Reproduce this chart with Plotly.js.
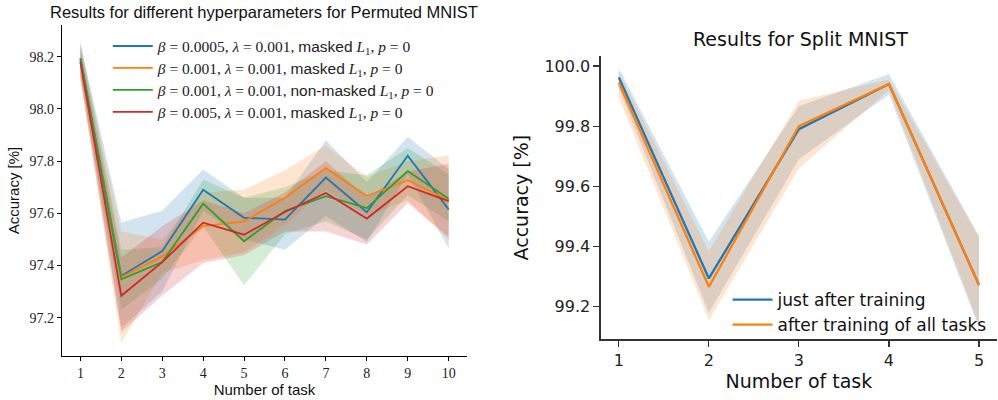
<!DOCTYPE html>
<html>
<head>
<meta charset="utf-8">
<script src="https://cdn.plot.ly/plotly-3.0.1.min.js"></script>
<style>html,body{margin:0;padding:0;background:#fff;}#chart{width:998px;height:400px;}</style>
</head>
<body>
<div id="chart"></div>
<script>
// ---------- Left chart: Permuted MNIST ----------
const tasksP = [1, 2, 3, 4, 5, 6, 7, 8, 9, 10];
const permTicks = [97.2, 97.4, 97.6, 97.8, 98.0, 98.2];

const pBlueMean  = [98.195, 97.360, 97.455, 97.690, 97.583, 97.576, 97.737, 97.604, 97.821, 97.615];
const pBlueUp    = [98.250, 97.565, 97.610, 97.768, 97.660, 97.660, 97.880, 97.720, 97.893, 97.770];
const pBlueLo    = [98.140, 97.160, 97.300, 97.610, 97.500, 97.460, 97.590, 97.490, 97.750, 97.465];

const pOrangeMean = [98.183, 97.355, 97.435, 97.551, 97.569, 97.660, 97.773, 97.666, 97.727, 97.650];
const pOrangeUp   = [98.240, 97.530, 97.500, 97.680, 97.690, 97.765, 97.860, 97.740, 97.800, 97.823];
const pOrangeLo   = [98.120, 97.105, 97.370, 97.420, 97.450, 97.555, 97.690, 97.590, 97.650, 97.500];

const pGreenMean = [98.190, 97.347, 97.413, 97.637, 97.493, 97.609, 97.666, 97.620, 97.762, 97.656];
const pGreenUp   = [98.260, 97.460, 97.470, 97.730, 97.660, 97.700, 97.765, 97.746, 97.850, 97.750];
const pGreenLo   = [98.120, 97.230, 97.350, 97.550, 97.324, 97.520, 97.570, 97.500, 97.670, 97.570];

const pRedMean = [98.180, 97.284, 97.413, 97.564, 97.518, 97.605, 97.678, 97.580, 97.704, 97.647];
const pRedUp   = [98.230, 97.430, 97.550, 97.650, 97.600, 97.680, 97.800, 97.660, 97.760, 97.790];
const pRedLo   = [98.110, 97.145, 97.285, 97.410, 97.440, 97.530, 97.530, 97.480, 97.640, 97.509];

const permLabels = [
  '<span style="font-size:15.5px"><i>β</i> = 0.0005, <i>λ</i> = 0.001, <span style="font-family:Liberation Sans">masked</span> <i>L</i><sub>1</sub>, <i>p</i> = 0</span>',
  '<span style="font-size:15.5px"><i>β</i> = 0.001, <i>λ</i> = 0.001, <span style="font-family:Liberation Sans">masked</span> <i>L</i><sub>1</sub>, <i>p</i> = 0</span>',
  '<span style="font-size:15.5px"><i>β</i> = 0.001, <i>λ</i> = 0.001, <span style="font-family:Liberation Sans">non-masked</span> <i>L</i><sub>1</sub>, <i>p</i> = 0</span>',
  '<span style="font-size:15.5px"><i>β</i> = 0.005, <i>λ</i> = 0.001, <span style="font-family:Liberation Sans">masked</span> <i>L</i><sub>1</sub>, <i>p</i> = 0</span>'
];

// ---------- Right chart: Split MNIST ----------
const tasksS = [1, 2, 3, 4, 5];
const splitTicks = [99.2, 99.4, 99.6, 99.8, 100.0];

const sBlueMean = [99.962, 99.294, 99.790, 99.940, 99.272];
const sBlueUp   = [99.992, 99.416, 99.866, 99.973, 99.435];
const sBlueLo   = [99.925, 99.180, 99.690, 99.905, 99.130];

const sOrangeMean = [99.945, 99.266, 99.800, 99.940, 99.272];
const sOrangeUp   = [99.980, 99.383, 99.884, 99.955, 99.430];
const sOrangeLo   = [99.895, 99.156, 99.660, 99.920, 99.140];

const splitLabels = ['just after training', 'after training of all tasks'];

const C = ['#1f77b4', '#ff7f0e', '#2ca02c', '#d62728'];
const CF = ['rgba(31,119,180,0.2)', 'rgba(255,127,14,0.2)', 'rgba(44,160,44,0.2)', 'rgba(214,39,40,0.2)'];

function band(x, up, lo, fc, xa, ya) {
  return {
    x: x.concat(x.slice().reverse()),
    y: up.concat(lo.slice().reverse()),
    fill: 'toself', fillcolor: fc, mode: 'lines', line: {width: 0, color: 'rgba(0,0,0,0)'},
    hoverinfo: 'skip', showlegend: false, xaxis: xa, yaxis: ya, type: 'scatter'
  };
}
function line(x, y, c, name, xa, ya, w, lg) {
  return {x: x, y: y, mode: 'lines', line: {color: c, width: w}, name: name,
          xaxis: xa, yaxis: ya, type: 'scatter', legend: lg};
}

const permSeries = [
  [pBlueMean, pBlueUp, pBlueLo],
  [pOrangeMean, pOrangeUp, pOrangeLo],
  [pGreenMean, pGreenUp, pGreenLo],
  [pRedMean, pRedUp, pRedLo]
];
const splitSeries = [
  [sBlueMean, sBlueUp, sBlueLo],
  [sOrangeMean, sOrangeUp, sOrangeLo]
];

const traces = [];
permSeries.forEach((s, i) => traces.push(band(tasksP, s[1], s[2], CF[i], 'x', 'y')));
permSeries.forEach((s, i) => traces.push(line(tasksP, s[0], C[i], permLabels[i], 'x', 'y', 1.8, 'legend')));
splitSeries.forEach((s, i) => traces.push(band(tasksS, s[1], s[2], CF[i], 'x2', 'y2')));
splitSeries.forEach((s, i) => traces.push(line(tasksS, s[0], C[i], splitLabels[i], 'x2', 'y2', 2.3, 'legend2')));

const serif = 'Liberation Serif, DejaVu Serif, serif';
const sansL = 'Liberation Sans, Arial, sans-serif';
const sansR = 'DejaVu Sans, sans-serif';

const layout = {
  width: 998, height: 400,
  margin: {l: 0, r: 0, t: 0, b: 0},
  paper_bgcolor: '#fff', plot_bgcolor: '#fff',
  showlegend: true,
  xaxis: {
    domain: [0.0621, 0.468], range: [0.55, 10.45],
    tickvals: tasksP, ticktext: tasksP.map(String),
    tickfont: {family: serif, size: 14, color: '#222'},
    ticks: 'outside', ticklen: 4, tickwidth: 1, tickcolor: '#000',
    showline: true, linecolor: '#000', linewidth: 1.2,
    showgrid: false, zeroline: false,
    title: {text: 'Number of task', font: {family: sansL, size: 15, color: '#111'}, standoff: 4},
    anchor: 'y'
  },
  yaxis: {
    domain: [0.11, 0.9375], range: [97.053, 98.322],
    tickvals: permTicks, ticktext: permTicks.map(v => v.toFixed(1)),
    tickfont: {family: serif, size: 14, color: '#222'},
    ticks: 'outside', ticklen: 4, tickwidth: 1, tickcolor: '#000',
    showline: true, linecolor: '#000', linewidth: 1.2,
    showgrid: false, zeroline: false,
    title: {text: 'Accuracy [%]', font: {family: sansL, size: 15, color: '#111'}, standoff: 6},
    anchor: 'x'
  },
  xaxis2: {
    domain: [0.602, 0.999], range: [0.8, 5.2],
    tickvals: tasksS, ticktext: tasksS.map(String),
    tickfont: {family: sansR, size: 16, color: '#222'},
    ticks: 'outside', ticklen: 6, tickwidth: 1.2, tickcolor: '#333',
    showline: true, linecolor: '#333', linewidth: 1.4,
    showgrid: false, zeroline: false,
    title: {text: 'Number of task', font: {family: sansR, size: 19, color: '#111'}, standoff: 6},
    anchor: 'y2'
  },
  yaxis2: {
    domain: [0.152, 0.86], range: [99.092, 100.033],
    tickvals: splitTicks, ticktext: splitTicks.map(v => v.toFixed(1)),
    tickfont: {family: sansR, size: 16, color: '#222'},
    ticks: 'outside', ticklen: 6, tickwidth: 1.2, tickcolor: '#333',
    showline: true, linecolor: '#333', linewidth: 1.4,
    showgrid: false, zeroline: false,
    title: {text: 'Accuracy [%]', font: {family: sansR, size: 19, color: '#111'}, standoff: 10},
    anchor: 'x2'
  },
  legend: {
    x: 0.108, y: 0.925, xanchor: 'left', yanchor: 'top',
    bgcolor: 'rgba(0,0,0,0)', borderwidth: 0,
    font: {family: serif, size: 14.6, color: '#222'},
    itemwidth: 40, tracegroupgap: 0
  },
  legend2: {
    x: 0.729, y: 0.295, xanchor: 'left', yanchor: 'top',
    bgcolor: 'rgba(0,0,0,0)', borderwidth: 0,
    font: {family: sansR, size: 17, color: '#111'},
    itemwidth: 40, tracegroupgap: 0
  },
  annotations: [
    {text: 'Results for different hyperparameters for Permuted MNIST', xref: 'paper', yref: 'paper',
     x: 264/998, y: 1 - 12/400, xanchor: 'center', yanchor: 'middle', showarrow: false,
     font: {family: sansL, size: 16.5, color: '#111'}},
    {text: 'Results for Split MNIST', xref: 'paper', yref: 'paper',
     x: 800/998, y: 1 - 39/400, xanchor: 'center', yanchor: 'middle', showarrow: false,
     font: {family: sansR, size: 19, color: '#111'}}
  ]
};

Plotly.newPlot('chart', traces, layout, {displayModeBar: false, staticPlot: true});
</script>
</body>
</html>
